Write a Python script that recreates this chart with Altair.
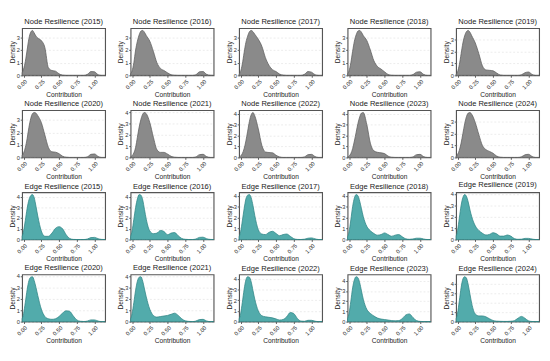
import altair as alt
import pandas as pd

# Shared x grid (Contribution) at which the density curves were read
XS = [-0.02, 0.0, 0.025, 0.05, 0.075, 0.1, 0.125, 0.15, 0.175, 0.2, 0.25, 0.3, 0.35,
      0.4, 0.45, 0.5, 0.55, 0.6, 0.65, 0.7, 0.75, 0.8, 0.85, 0.9, 0.95, 1.0, 1.05, 1.1, 1.15]

YEARS_TOP = [2015, 2016, 2017, 2018, 2019]
YEARS_BOTTOM = [2020, 2021, 2022, 2023, 2024]

NODE = {
    2015: [0.2, 0.5, 1.1, 2.0, 2.9, 3.4, 3.55, 3.35, 3.1, 2.95, 2.75, 2.2, 0.6, 0.38, 0.33, 0.12, 0.02, 0, 0, 0, 0, 0, 0, 0.08, 0.3, 0.28, 0.05, 0, 0],
    2016: [0.12, 0.35, 1.0, 2.0, 2.7, 3.2, 3.5, 3.55, 3.4, 3.15, 2.7, 1.9, 1.0, 0.55, 0.38, 0.2, 0.05, 0.01, 0, 0, 0, 0, 0, 0.05, 0.28, 0.3, 0.08, 0.01, 0],
    2017: [0.1, 0.3, 0.9, 1.8, 2.6, 3.1, 3.45, 3.55, 3.45, 3.25, 2.85, 2.3, 1.4, 0.8, 0.45, 0.3, 0.1, 0.02, 0, 0, 0, 0, 0, 0.08, 0.3, 0.25, 0.05, 0, 0],
    2018: [0.12, 0.35, 1.0, 1.9, 2.7, 3.2, 3.5, 3.55, 3.4, 3.15, 2.75, 2.0, 1.15, 0.7, 0.5, 0.28, 0.07, 0.01, 0, 0, 0, 0, 0, 0.06, 0.25, 0.28, 0.08, 0, 0],
    2019: [0.1, 0.3, 0.9, 1.8, 2.7, 3.3, 3.65, 3.75, 3.6, 3.3, 2.7, 1.8, 0.8, 0.45, 0.42, 0.38, 0.2, 0.03, 0, 0, 0, 0, 0, 0.05, 0.22, 0.28, 0.08, 0, 0],
    2020: [0.15, 0.35, 0.8, 1.5, 2.4, 3.1, 3.5, 3.6, 3.55, 3.35, 2.8, 1.8, 0.8, 0.45, 0.42, 0.3, 0.1, 0.02, 0, 0, 0, 0, 0, 0.05, 0.25, 0.28, 0.08, 0, 0],
    2021: [0.05, 0.15, 0.4, 0.9, 1.8, 2.7, 3.4, 3.85, 4.0, 3.9, 3.1, 1.8, 0.7, 0.45, 0.45, 0.3, 0.1, 0.02, 0, 0, 0, 0, 0, 0.05, 0.25, 0.28, 0.08, 0, 0],
    2022: [0.05, 0.12, 0.35, 0.8, 1.5, 2.4, 3.3, 3.9, 4.1, 3.8, 2.6, 1.1, 0.5, 0.45, 0.42, 0.2, 0.05, 0, 0, 0, 0, 0, 0, 0.05, 0.25, 0.28, 0.08, 0, 0],
    2023: [0.05, 0.12, 0.35, 0.8, 1.5, 2.3, 3.1, 3.7, 4.05, 4.1, 3.0, 1.3, 0.6, 0.47, 0.42, 0.35, 0.12, 0.02, 0, 0, 0, 0, 0, 0.05, 0.25, 0.28, 0.08, 0, 0],
    2024: [0.1, 0.25, 0.6, 1.2, 2.0, 2.8, 3.4, 3.7, 3.75, 3.6, 2.9, 1.9, 1.0, 0.65, 0.5, 0.35, 0.12, 0.02, 0, 0, 0, 0, 0, 0.05, 0.22, 0.26, 0.08, 0, 0],
}

EDGE = {
    2015: [0.3, 0.8, 1.8, 2.9, 3.7, 4.1, 4.2, 3.9, 3.1, 2.2, 0.8, 0.3, 0.3, 0.6, 1.05, 1.2, 1.0, 0.45, 0.1, 0.01, 0, 0, 0, 0.05, 0.18, 0.2, 0.08, 0.01, 0],
    2016: [0.3, 0.8, 1.9, 3.0, 3.8, 4.2, 4.15, 3.7, 2.8, 1.9, 0.8, 0.55, 0.6, 0.85, 0.75, 0.45, 0.6, 0.65, 0.35, 0.1, 0.02, 0, 0, 0.05, 0.2, 0.22, 0.08, 0.01, 0],
    2017: [0.25, 0.7, 1.7, 2.8, 3.7, 4.05, 4.1, 3.8, 3.1, 2.2, 0.9, 0.5, 0.45, 0.65, 0.75, 0.55, 0.35, 0.45, 0.5, 0.3, 0.08, 0.01, 0, 0.03, 0.12, 0.15, 0.06, 0, 0],
    2018: [0.25, 0.7, 1.8, 3.0, 3.8, 4.1, 4.0, 3.5, 2.8, 2.1, 1.2, 0.8, 0.55, 0.4, 0.45, 0.6, 0.45, 0.3, 0.4, 0.45, 0.25, 0.06, 0.02, 0.05, 0.12, 0.12, 0.05, 0, 0],
    2019: [0.3, 0.8, 1.9, 3.0, 3.7, 3.95, 3.8, 3.3, 2.6, 2.0, 1.2, 0.8, 0.55, 0.4, 0.45, 0.6, 0.5, 0.3, 0.3, 0.4, 0.3, 0.08, 0.02, 0.03, 0.1, 0.1, 0.04, 0, 0],
    2020: [0.25, 0.7, 1.7, 2.8, 3.6, 3.9, 3.95, 3.6, 3.0, 2.3, 1.1, 0.45, 0.25, 0.2, 0.25, 0.45, 0.75, 0.95, 0.9, 0.5, 0.15, 0.03, 0.01, 0.05, 0.15, 0.15, 0.05, 0, 0],
    2021: [0.25, 0.7, 1.7, 2.8, 3.6, 3.95, 4.0, 3.6, 2.9, 2.2, 1.1, 0.55, 0.4, 0.45, 0.5, 0.55, 0.65, 0.75, 0.55, 0.25, 0.07, 0.02, 0, 0.05, 0.18, 0.2, 0.06, 0, 0],
    2022: [0.25, 0.7, 1.8, 3.0, 3.9, 4.2, 4.15, 3.7, 2.9, 2.1, 1.0, 0.55, 0.45, 0.4, 0.35, 0.25, 0.15, 0.2, 0.45, 0.85, 0.75, 0.3, 0.05, 0.03, 0.12, 0.12, 0.04, 0, 0],
    2023: [0.3, 0.8, 2.0, 3.3, 4.1, 4.4, 4.3, 3.8, 3.0, 2.2, 1.2, 0.8, 0.55, 0.35, 0.25, 0.2, 0.15, 0.1, 0.08, 0.1, 0.3, 0.65, 0.75, 0.4, 0.1, 0.02, 0, 0, 0],
    2024: [0.3, 0.9, 2.2, 3.6, 4.5, 4.75, 4.6, 3.9, 2.9, 1.9, 0.8, 0.6, 0.6, 0.5, 0.3, 0.12, 0.05, 0.03, 0.02, 0.02, 0.04, 0.1, 0.35, 0.55, 0.35, 0.08, 0.01, 0, 0],
}

X_TICKS = [0.0, 0.25, 0.5, 0.75, 1.0]

PLOT_W = 88
PLOT_H = 50


def panel(kind, year, vals, fill, stroke):
    df = pd.DataFrame({"Contribution": XS, "Density": vals})
    ymax = max(vals) * 1.05
    yticks = [i for i in range(0, 7) if i <= ymax - 0.12]
    return (
        alt.Chart(df, title=f"{kind} Resilience ({year})")
        .mark_area(interpolate="monotone", color=fill, fillOpacity=1,
                   stroke=stroke, strokeWidth=0.8)
        .encode(
            x=alt.X("Contribution:Q",
                    scale=alt.Scale(domain=[-0.02, 1.15], nice=False, zero=False),
                    axis=alt.Axis(values=X_TICKS, format=".2f", labelAngle=315,
                                  title="Contribution", grid=False)),
            y=alt.Y("Density:Q",
                    scale=alt.Scale(domain=[0, ymax], nice=False),
                    axis=alt.Axis(values=yticks, title="Density", grid=True)),
        )
        .properties(width=PLOT_W, height=PLOT_H)
    )


NODE_FILL, NODE_STROKE = "#8a8a8a", "#5e5e5e"
EDGE_FILL, EDGE_STROKE = "#52abab", "#2f8585"

rows = [
    alt.hconcat(*[panel("Node", y, NODE[y], NODE_FILL, NODE_STROKE) for y in YEARS_TOP], spacing=9),
    alt.hconcat(*[panel("Node", y, NODE[y], NODE_FILL, NODE_STROKE) for y in YEARS_BOTTOM], spacing=9),
    alt.hconcat(*[panel("Edge", y, EDGE[y], EDGE_FILL, EDGE_STROKE) for y in YEARS_TOP], spacing=9),
    alt.hconcat(*[panel("Edge", y, EDGE[y], EDGE_FILL, EDGE_STROKE) for y in YEARS_BOTTOM], spacing=9),
]

chart = (
    alt.vconcat(*rows, spacing=0)
    .properties(padding={"left": 0, "top": 0, "right": 0, "bottom": 0})
    .configure(font="Liberation Sans")
    .configure_view(stroke="#555555", strokeWidth=1.2)
    .configure_title(fontSize=8, fontWeight="normal", color="#222222", offset=2)
    .configure_axis(labelFontSize=6, labelColor="#333333", titleFontSize=7,
                    titleFontWeight="normal", titleColor="#222222",
                    domain=False, tickSize=2, tickColor="#555555",
                    labelPadding=1, titlePadding=1,
                    gridColor="#dddddd", gridDash=[2, 2], gridWidth=0.6)
)

chart.save("out.html", embed_options={"renderer": "svg", "actions": False})
